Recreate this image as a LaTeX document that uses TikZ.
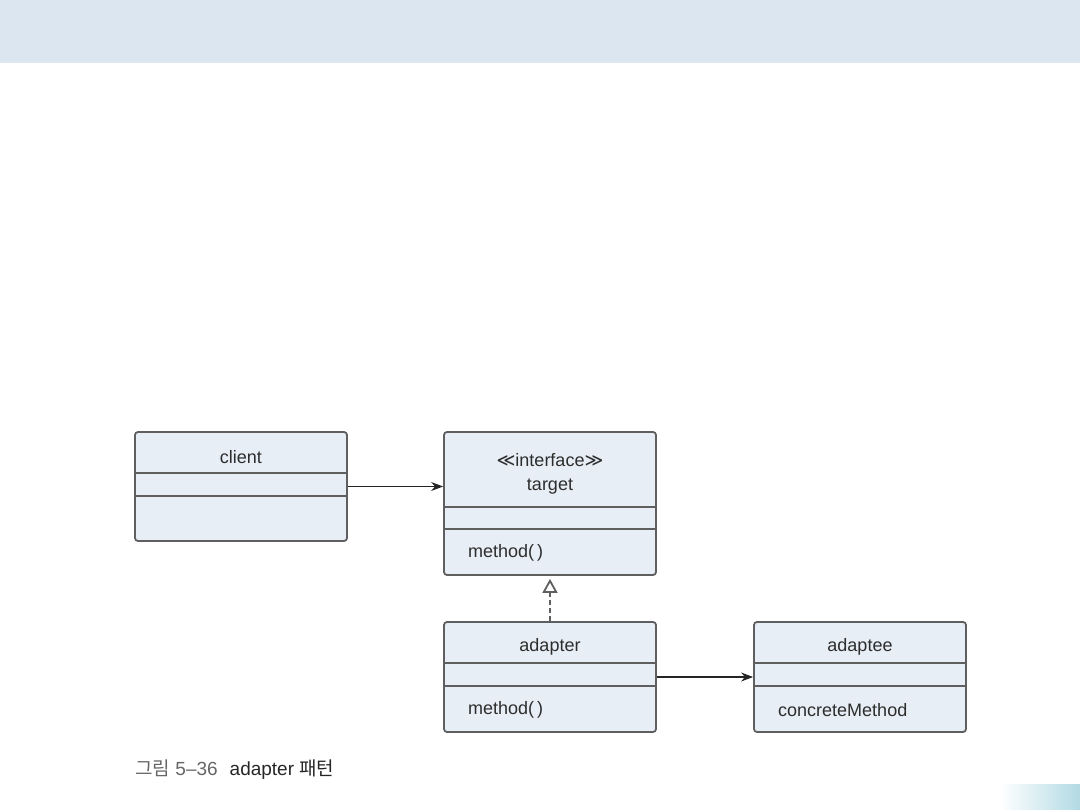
\documentclass[tikz,border=0pt]{standalone}
\usepackage{fontspec}
\setmainfont{Liberation Sans}
\newfontfamily\krfont{Noto Sans CJK KR}
\newfontfamily\dvfont{DejaVu Sans}
\usetikzlibrary{arrows.meta}
\definecolor{banner}{RGB}{220,230,241}
\definecolor{boxfill}{RGB}{232,238,245}
\definecolor{boxline}{RGB}{95,95,95}
\definecolor{txt}{RGB}{45,45,45}
\definecolor{teal}{RGB}{178,218,228}
\tikzset{
  umlbox/.style={draw=boxline, fill=boxfill, line width=1.8, rounded corners=3, inner sep=0},
  divider/.style={draw=boxline, line width=1.8},
  lbl/.style={text=txt, font=\fontsize{18}{20}\selectfont, inner sep=0},
  assoc/.style={draw=black!85, line width=1.1, -{Stealth[length=12pt,width=9pt]}},
  realize/.style={draw=boxline, line width=1.1, dash pattern=on 5pt off 3pt, -{Triangle[open,length=14pt,width=15pt,line width=1.8]}}
}
\begin{document}
\begin{tikzpicture}[x=1pt,y=-1pt]
\useasboundingbox (0,0) rectangle (1080,810);
\fill[banner] (0,0) rectangle (1080,63);
\shade[left color=white, right color=teal] (1000,784) rectangle (1080,810);

% boxes
\node[umlbox, minimum width=212, minimum height=109] (client) at (241,486.5) {};
\node[umlbox, minimum width=212, minimum height=143] (target) at (550,503.5) {};
\node[umlbox, minimum width=212, minimum height=110] (adapter) at (550,677) {};
\node[umlbox, minimum width=212, minimum height=110] (adaptee) at (860,677) {};

% dividers
\draw[divider] ([yshift=-42]client.north west) -- ([yshift=-42]client.north east);
\draw[divider] ([yshift=-65]client.north west) -- ([yshift=-65]client.north east);
\draw[divider] ([yshift=-76]target.north west) -- ([yshift=-76]target.north east);
\draw[divider] ([yshift=-98]target.north west) -- ([yshift=-98]target.north east);
\draw[divider] ([yshift=-42]adapter.north west) -- ([yshift=-42]adapter.north east);
\draw[divider] ([yshift=-65]adapter.north west) -- ([yshift=-65]adapter.north east);
\draw[divider] ([yshift=-42]adaptee.north west) -- ([yshift=-42]adaptee.north east);
\draw[divider] ([yshift=-65]adaptee.north west) -- ([yshift=-65]adaptee.north east);

% labels
\node[lbl] (tclient) at (241,457) {client};
\node[lbl] (tiface) at (550,460) {{\dvfont ≪}interface{\dvfont ≫}};
\node[lbl] (ttarget) at (550,487) {target};
\node[lbl, anchor=west] (tmeth1) at (468,553) {method(\,)};
\node[lbl] (tadapter) at (550,647) {adapter};
\node[lbl, anchor=west] (tmeth2) at (468,710) {method(\,)};
\node[lbl] (tadaptee) at (860,647) {adaptee};
\node[lbl, anchor=west] (tconc) at (778,710) {concreteMethod};

% connectors
\draw[assoc] (client.east) -- (client.east -| target.west);
\draw[assoc] (adapter.east) -- (adaptee.west);
\coordinate (tip) at ([yshift=-3]target.south);
\draw[realize] (adapter.north) -- (tip);

% caption
\node[anchor=west, inner sep=0, font=\fontsize{19}{21}\selectfont] (cap) at (135,770)
  {\textcolor{black!60}{{\krfont 그림} 5–36}\hspace{12pt}\textcolor{black!85}{adapter {\krfont 패턴}}};
\end{tikzpicture}
\end{document}
